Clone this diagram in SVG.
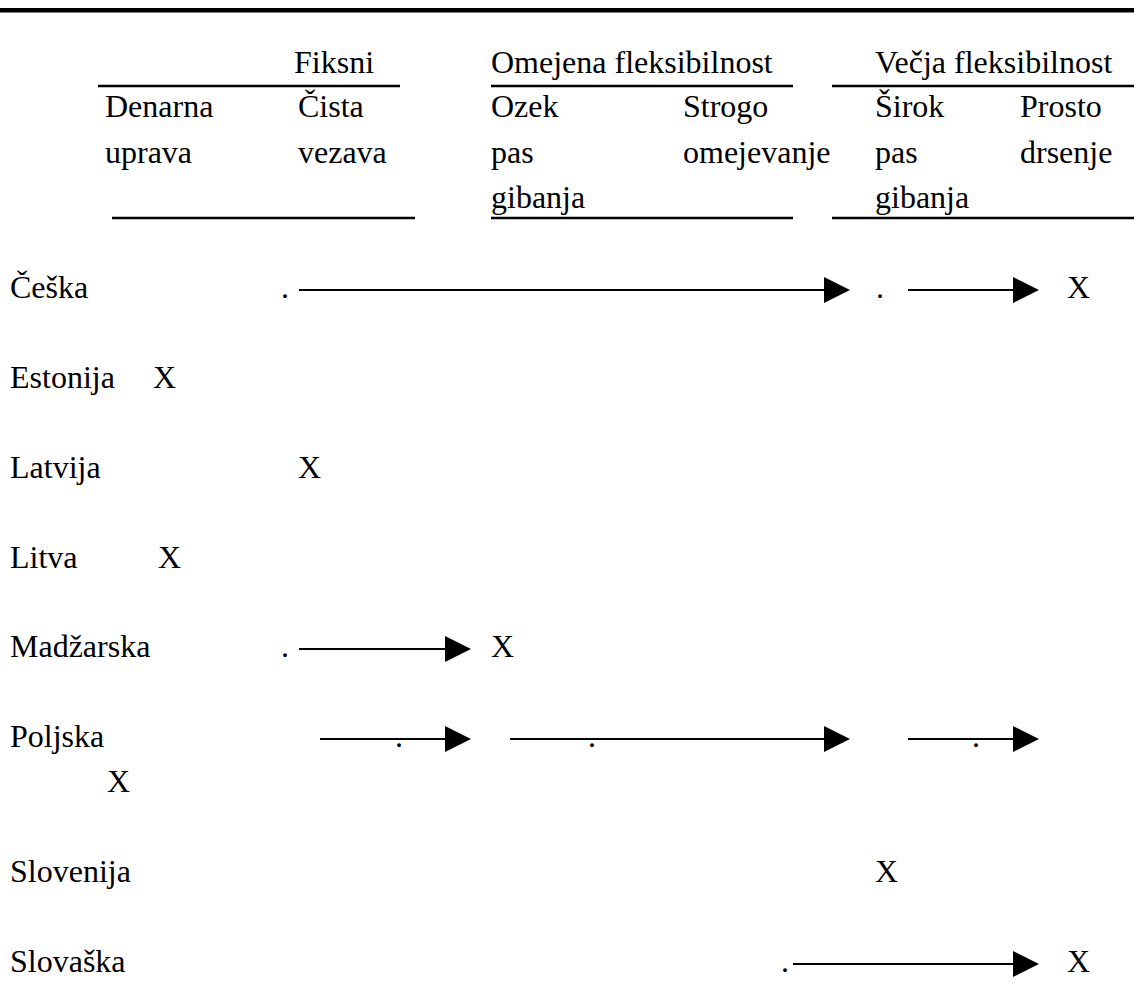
<svg xmlns="http://www.w3.org/2000/svg" width="1134" height="992" viewBox="0 0 1134 992">
<style>
text{font-family:"Liberation Serif","Times New Roman",serif;font-size:32px;fill:#000}
.rule{stroke:#000;stroke-width:2.5}
.arr{stroke:#000;stroke-width:2;fill:none;marker-end:url(#ah)}
</style>
<defs>
<marker id="ah" markerUnits="userSpaceOnUse" markerWidth="26" markerHeight="26" refX="0" refY="13" orient="auto" overflow="visible">
<path d="M0,0 L26,13 L0,26 Z" fill="#000"/>
</marker>
</defs>
<rect x="0" y="8" width="1134" height="4.5" fill="#000"/>
<g id="header">
<text x="294" y="73">Fiksni</text>
<text x="491" y="73">Omejena fleksibilnost</text>
<text x="875" y="73">Večja fleksibilnost</text>
<line class="rule" x1="98" y1="86" x2="400" y2="86"/>
<line class="rule" x1="491" y1="86" x2="793" y2="86"/>
<line class="rule" x1="832" y1="86" x2="1134" y2="86"/>
<text x="105" y="117">Denarna</text>
<text x="105" y="163">uprava</text>
<text x="298" y="117">Čista</text>
<text x="298" y="163">vezava</text>
<text x="491" y="117">Ozek</text>
<text x="491" y="163">pas</text>
<text x="491" y="208">gibanja</text>
<text x="683" y="117">Strogo</text>
<text x="683" y="163">omejevanje</text>
<text x="875" y="117">Širok</text>
<text x="875" y="163">pas</text>
<text x="875" y="208">gibanja</text>
<text x="1020" y="117">Prosto</text>
<text x="1020" y="163">drsenje</text>
<line class="rule" x1="112" y1="218" x2="415" y2="218"/>
<line class="rule" x1="491" y1="218" x2="793" y2="218"/>
<line class="rule" x1="832" y1="218" x2="1134" y2="218"/>
</g>
<g id="row-ceska">
<text x="10" y="298">Češka</text>
<text x="281" y="298">.</text>
<text x="876" y="298">.</text>
<text x="1067" y="298">X</text>
</g>
<g id="row-estonija">
<text x="10" y="388">Estonija</text>
<text x="153" y="388">X</text>
</g>
<g id="row-latvija">
<text x="10" y="478">Latvija</text>
<text x="298" y="478">X</text>
</g>
<g id="row-litva">
<text x="10" y="568">Litva</text>
<text x="158" y="568">X</text>
</g>
<g id="row-madzarska">
<text x="10" y="657">Madžarska</text>
<text x="281" y="657">.</text>
<text x="491" y="657">X</text>
</g>
<g id="row-poljska">
<text x="10" y="747">Poljska</text>
<text x="395" y="747">.</text>
<text x="588" y="747">.</text>
<text x="972" y="747">.</text>
<text x="107" y="792">X</text>
</g>
<g id="row-slovenija">
<text x="10" y="882">Slovenija</text>
<text x="875" y="882">X</text>
</g>
<g id="row-slovaska">
<text x="10" y="972">Slovaška</text>
<text x="781" y="972">.</text>
<text x="1067" y="972">X</text>
</g>
<g id="connectors">
<line class="arr" x1="299" y1="290" x2="824" y2="290"/>
<line class="arr" x1="908" y1="290" x2="1013" y2="290"/>
<line class="arr" x1="299" y1="649" x2="445" y2="649"/>
<line class="arr" x1="320" y1="739" x2="445" y2="739"/>
<line class="arr" x1="510" y1="739" x2="824" y2="739"/>
<line class="arr" x1="908" y1="739" x2="1013" y2="739"/>
<line class="arr" x1="793" y1="964" x2="1013" y2="964"/>
</g>
</svg>
